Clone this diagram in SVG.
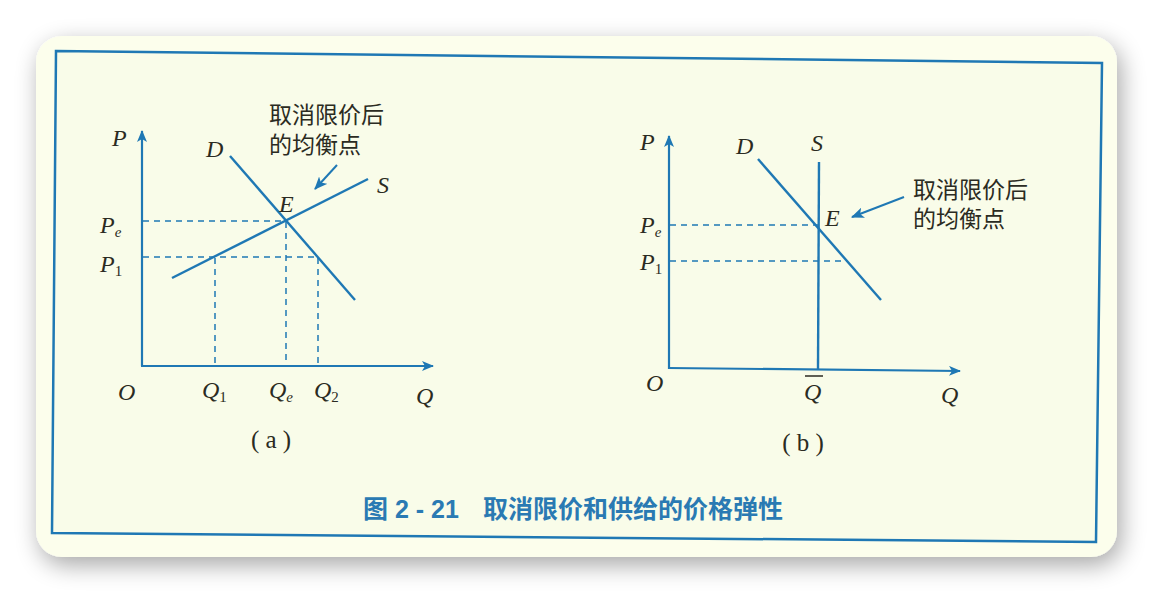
<svg xmlns="http://www.w3.org/2000/svg" width="1154" height="594" viewBox="0 0 1154 594">
  <defs>
    <filter id="shadow" x="-10%" y="-10%" width="120%" height="125%">
      <feGaussianBlur in="SourceAlpha" stdDeviation="12"/>
      <feOffset dx="4" dy="8" result="b"/>
      <feComponentTransfer><feFuncA type="linear" slope="0.35"/></feComponentTransfer>
      <feMerge><feMergeNode/><feMergeNode in="SourceGraphic"/></feMerge>
    </filter>
    <marker id="axisArrow" viewBox="0 0 12 10" refX="11" refY="5" markerWidth="12" markerHeight="10" markerUnits="userSpaceOnUse" orient="auto">
      <path d="M0,0 L12,5 L0,10 L3,5 Z" fill="#1f78b4"/>
    </marker>
    <marker id="noteArrow" viewBox="0 0 12 10" refX="11" refY="5" markerWidth="13" markerHeight="11" markerUnits="userSpaceOnUse" orient="auto">
      <path d="M0,0 L12,5 L0,10 L3,5 Z" fill="#1f78b4"/>
    </marker>
  </defs>
  <style>
    .axis { stroke: #1f78b4; stroke-width: 2.2; fill: none; }
    .curve { stroke: #1f78b4; stroke-width: 2.4; fill: none; }
    .dash { stroke: #1f78b4; stroke-width: 1.5; stroke-dasharray: 6 5; fill: none; }
    .lbl { font-family: "Liberation Serif", "Times New Roman", serif; font-style: italic; font-size: 24px; fill: #2b2b22; }
    .sub { font-family: "Liberation Serif", "Times New Roman", serif; font-style: normal; font-size: 15px; fill: #2b2b22; }
    .subi { font-family: "Liberation Serif", "Times New Roman", serif; font-style: italic; font-size: 15px; fill: #2b2b22; }
    .cn { font-family: "Liberation Sans", "Noto Sans CJK SC", sans-serif; font-size: 23px; fill: #2b2b22; }
    .cap { font-family: "Liberation Sans", "Noto Sans CJK SC", sans-serif; font-size: 25px; font-weight: bold; fill: #2a7ab3; }
    .paren { font-family: "Liberation Serif", "Times New Roman", serif; font-size: 25px; fill: #2b2b22; }
  </style>

  <rect x="0" y="0" width="1154" height="594" fill="#ffffff"/>
  <rect x="36" y="36" width="1081" height="521" rx="26" ry="26" fill="#fcfeec" filter="url(#shadow)"/>
  <polygon points="56,51 1102,63 1096,542 52,533" fill="#f9fce9" stroke="#1f78b4" stroke-width="2.5"/>

  <!-- Panel (a) -->
  <g id="axes-a">
    <line class="axis" x1="142" y1="366" x2="142" y2="131" marker-end="url(#axisArrow)"/>
    <line class="axis" x1="141" y1="366" x2="433" y2="366" marker-end="url(#axisArrow)"/>
  </g>
  <g id="guides-a">
    <line class="dash" x1="143" y1="221" x2="286" y2="221"/>
    <line class="dash" x1="143" y1="257" x2="318" y2="257"/>
    <line class="dash" x1="215" y1="258" x2="215" y2="365"/>
    <line class="dash" x1="286" y1="222" x2="286" y2="365"/>
    <line class="dash" x1="318" y1="258" x2="318" y2="365"/>
  </g>
  <g id="demand-a">
    <line class="curve" x1="230" y1="156" x2="355" y2="300"/>
    <text class="lbl" x="206" y="157">D</text>
  </g>
  <g id="supply-a">
    <line class="curve" x1="172" y1="278" x2="368" y2="179"/>
    <text class="lbl" x="377" y="193">S</text>
  </g>
  <g id="labels-a">
    <text class="lbl" x="112" y="146">P</text>
    <text class="lbl" x="279" y="212">E</text>
    <text class="lbl" x="100" y="233">P<tspan class="subi" dy="4">e</tspan></text>
    <text class="lbl" x="100" y="272">P<tspan class="sub" dy="4">1</tspan></text>
    <text class="lbl" x="118" y="400">O</text>
    <text class="lbl" x="202" y="398">Q<tspan class="sub" dy="4">1</tspan></text>
    <text class="lbl" x="269" y="398">Q<tspan class="subi" dy="4">e</tspan></text>
    <text class="lbl" x="314" y="398">Q<tspan class="sub" dy="4">2</tspan></text>
    <text class="lbl" x="416" y="404">Q</text>
    <text class="paren" x="271" y="448" text-anchor="middle" xml:space="preserve">( a )</text>
  </g>
  <g id="note-a">
    <text class="cn" x="269" y="123">取消限价后</text>
    <text class="cn" x="269" y="153">的均衡点</text>
  </g>

  <!-- Panel (b) -->
  <g id="axes-b">
    <line class="axis" x1="669" y1="369" x2="669" y2="136" marker-end="url(#axisArrow)"/>
    <line class="axis" x1="668" y1="368" x2="960" y2="371" marker-end="url(#axisArrow)"/>
  </g>
  <g id="guides-b">
    <line class="dash" x1="670" y1="225" x2="818" y2="225"/>
    <line class="dash" x1="670" y1="261" x2="847" y2="261"/>
  </g>
  <g id="supply-b">
    <line class="curve" x1="819" y1="162" x2="818" y2="369"/>
    <text class="lbl" x="811" y="151">S</text>
  </g>
  <g id="demand-b">
    <line class="curve" x1="758" y1="159" x2="881" y2="300"/>
    <text class="lbl" x="736" y="154">D</text>
  </g>
  <g id="labels-b">
    <text class="lbl" x="640" y="150">P</text>
    <text class="lbl" x="825" y="226">E</text>
    <text class="lbl" x="640" y="233">P<tspan class="subi" dy="4">e</tspan></text>
    <text class="lbl" x="640" y="270">P<tspan class="sub" dy="4">1</tspan></text>
    <text class="lbl" x="646" y="391">O</text>
    <text class="lbl" x="804" y="400">Q</text>
    <line x1="805" y1="376" x2="823" y2="376" stroke="#2b2b22" stroke-width="1.5"/>
    <text class="lbl" x="941" y="403">Q</text>
    <text class="paren" x="803" y="451" text-anchor="middle" xml:space="preserve">( b )</text>
  </g>
  <g id="note-b">
    <text class="cn" x="913" y="198">取消限价后</text>
    <text class="cn" x="913" y="227">的均衡点</text>
  </g>

  <g id="connectors">
    <line x1="337" y1="165" x2="315" y2="189" stroke="#1f78b4" stroke-width="2" marker-end="url(#noteArrow)"/>
    <line x1="904" y1="197" x2="852" y2="217" stroke="#1f78b4" stroke-width="2" marker-end="url(#noteArrow)"/>
  </g>

  <g id="caption">
    <text class="cap" x="363" y="518" xml:space="preserve">图 2 - 21<tspan x="483">取消限价和供给的价格弹性</tspan></text>
  </g>
</svg>
